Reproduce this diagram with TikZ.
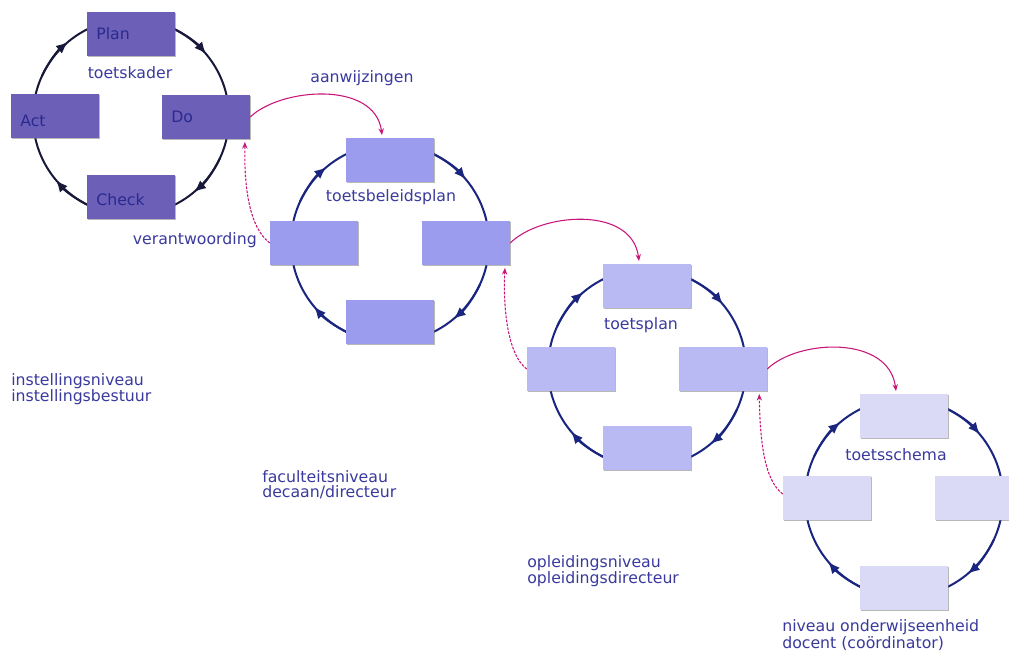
\documentclass[tikz,border=0pt]{standalone}
\usepackage{fontspec}
\setmainfont{DejaVu Sans}
\usetikzlibrary{arrows.meta,shadows}
\definecolor{txt}{HTML}{3A3A9E}
\definecolor{boxtxt}{HTML}{2A2A8E}
\definecolor{cA}{HTML}{6C5FB8}
\definecolor{cB}{HTML}{9C9CEE}
\definecolor{cC}{HTML}{B9B9F4}
\definecolor{cD}{HTML}{DADAF6}
\definecolor{ringA}{HTML}{18183A}
\definecolor{ring}{HTML}{1A2580}
\definecolor{link}{HTML}{C8157A}
\begin{document}
\begin{tikzpicture}[x=0.75pt,y=-0.75pt,
  every node/.style={font=\fontsize{11.8}{11}\selectfont, text=txt},
  box/.style={minimum width=66pt, minimum height=33pt, inner xsep=7pt, inner ysep=0pt,
    text width=52pt, align=left, text=boxtxt,
    drop shadow={shadow xshift=1pt, shadow yshift=-1pt, fill=black!55, opacity=0.5}},
  lbl/.style={inner sep=0pt},
  lvl/.style={inner sep=0pt, anchor=west, align=left},
  ringline/.style={line width=1.5pt},
  cyc/.style={line width=1.5pt, -{Latex[length=9pt,width=7.5pt]}},
  solidlink/.style={link, line width=0.8pt, -{Stealth[length=5pt,width=4pt]}},
  dashlink/.style={link, line width=0.8pt, dash pattern=on 2pt off 1pt, -{Stealth[length=5pt,width=4pt]}}
]
\useasboundingbox (0,0) rectangle (1009,651);
\clip (0,0) rectangle (1009,651);
\fill[white] (0,0) rectangle (1009,651);

% centres
\coordinate (c1) at (131,117);
\coordinate (c2) at (390,243);
\coordinate (c3) at (647,368);
\coordinate (c4) at (904,498);

% rings
\draw[ringA, ringline] (c1) circle[radius=98];
\foreach \c in {c2,c3,c4} \draw[ring, ringline] (\c) circle[radius=99];
% ring arrows (clockwise)
\foreach \a in {45,135,225,315}{
  \draw[ringA, cyc] (c1) ++(\a-20:98) arc[start angle=\a-20, end angle=\a+5, radius=98];
  \foreach \c in {c2,c3,c4}
    \draw[ring, cyc] (\c) ++(\a-20:99) arc[start angle=\a-20, end angle=\a+5, radius=99];
}

% cycle 1
\node[box, fill=cA] (plan) at (131,34) {Plan};
\node[box, fill=cA] (do) at (206,117) {Do};
\node[box, fill=cA] (act) at (55,116) {\raisebox{-3.75pt}[\height][0pt]{Act}};
\node[box, fill=cA] (check) at (131,197) {\raisebox{-2.25pt}[\height][0pt]{Check}};
\node[lbl] (kader) at (130,73) {toetskader};

% cycle 2
\node[box, fill=cB] (b2t) at (390,160) {};
\node[box, fill=cB] (b2l) at (314,243) {};
\node[box, fill=cB] (b2r) at (466,243) {};
\node[box, fill=cB] (b2b) at (390,322) {};
\node[lbl] (beleid) at (391,197) {toetsbeleidsplan};

% cycle 3
\node[box, fill=cC] (b3t) at (647,286) {};
\node[box, fill=cC] (b3l) at (571,369) {};
\node[box, fill=cC] (b3r) at (723,369) {};
\node[box, fill=cC] (b3b) at (647,448) {};
\node[lbl] (tplan) at (641,325) {toetsplan};

% cycle 4
\node[box, fill=cD] (b4t) at (904,416) {};
\node[box, fill=cD] (b4l) at (827,498) {};
\node[box, fill=cD] (b4r) at (979,498) {};
\node[box, fill=cD] (b4b) at (904,588) {};
\node[lbl] (schema) at (896,455) {toetsschema};

% link labels
\node[lbl] (aanw) at (362,78) {aanwijzingen};
\node[lbl, anchor=east] (verant) at (257,240) {verantwoording};

% level labels
\node[lvl] (lv1) at (11,389) {instellingsniveau\\instellingsbestuur};
\node[lvl] (lv2) at (262,485) {faculteitsniveau\\decaan/directeur};
\node[lvl] (lv3) at (527,571) {opleidingsniveau\\opleidingsdirecteur};
\node[lvl] (lv4) at (782,635) {niveau onderwijseenheid\\docent (coördinator)};

% links
\draw[solidlink] (do.east) .. controls (280,88) and (375,80) .. ([xshift=-6pt,yshift=2pt]b2t.north);
\draw[solidlink] (b2r.east) .. controls (540,213) and (632,205) .. ([xshift=-6pt,yshift=2pt]b3t.north);
\draw[solidlink] (b3r.east) .. controls (798,339) and (889,335) .. ([xshift=-6pt,yshift=2pt]b4t.north);

\draw[dashlink] (b2l.west) .. controls (250,228) and (244,190) .. ([xshift=-4pt,yshift=-2pt]do.south east);
\draw[dashlink] (b3l.west) .. controls (508,355) and (503,310) .. ([xshift=-4pt,yshift=-2pt]b2r.south east);
\draw[dashlink] ([yshift=3pt]b4l.west) .. controls (764,480) and (760,440) .. ([xshift=-6pt,yshift=-2pt]b3r.south east);
\end{tikzpicture}
\end{document}
